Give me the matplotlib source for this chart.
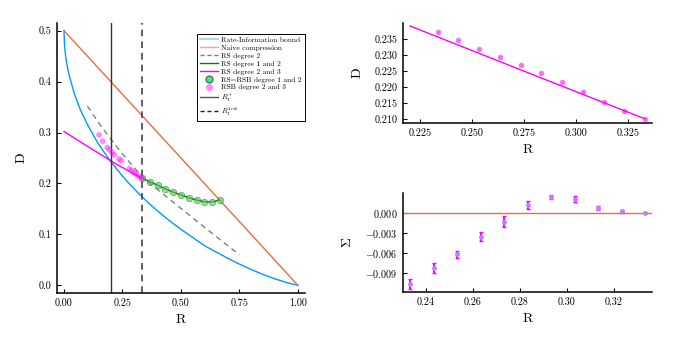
import matplotlib
matplotlib.use("Agg")
import matplotlib.pyplot as plt
from matplotlib.lines import Line2D

plt.rcParams.update({
    "font.family": "serif",
    "font.serif": ["cmr10", "DejaVu Serif"],
    "mathtext.fontset": "cm",
    "axes.formatter.use_mathtext": True,
    "axes.unicode_minus": True,
})

# ---------------- data ----------------
# Rate-Information bound
bound_R = [0.0, 0.002, 0.005, 0.01, 0.015, 0.02, 0.025, 0.03, 0.04, 0.045, 0.06, 0.07, 0.08,
           0.09, 0.1, 0.12, 0.13, 0.15, 0.175, 0.2, 0.225, 0.25, 0.275, 0.3, 0.325, 0.35,
           0.375, 0.4, 0.425, 0.45, 0.475, 0.5, 0.55, 0.6, 0.65, 0.7, 0.75, 0.8, 0.85,
           0.9, 0.95, 1.0]
bound_D = [0.5, 0.4737, 0.458, 0.4405, 0.428, 0.4163, 0.407, 0.3995, 0.383, 0.3755, 0.3565,
           0.3445, 0.335, 0.3253, 0.316, 0.2995, 0.291, 0.276, 0.259, 0.243, 0.2287, 0.2145,
           0.2015, 0.1893, 0.1777, 0.1667, 0.156, 0.1461, 0.1365, 0.1273, 0.1185, 0.110,
           0.094, 0.078, 0.0655, 0.0532, 0.0417, 0.0311, 0.0215, 0.013, 0.0057, 0.0]
# Naive compression
naive_R = [0.0, 1.0]
naive_D = [0.5, 0.0]
# RS degree 2
rs2_R = [0.1, 0.15, 0.2, 0.25, 0.3, 0.35, 0.4, 0.5, 0.6, 0.7, 0.75]
rs2_D = [0.352, 0.318, 0.287, 0.258, 0.231, 0.206, 0.188, 0.151, 0.114, 0.078, 0.060]
# RS degree 1 and 2 (line + RS=RSB points)
rs12_R = [0.3333, 0.3667, 0.4, 0.4333, 0.4667, 0.5, 0.5333, 0.5667, 0.6, 0.6333, 0.6667]
rs12_D = [0.2101, 0.2037, 0.1965, 0.1895, 0.183, 0.1775, 0.172, 0.1675, 0.164, 0.1638, 0.1677]
# RS degree 2 and 3
rs23_R = [0.0, 0.1, 0.22, 0.2767, 0.3333]
rs23_D = [0.302, 0.273, 0.2390, 0.2245, 0.2101]
# RSB degree 2 and 3 (left panel)
rsb_R = [0.15, 0.165, 0.185, 0.195, 0.205, 0.215, 0.235, 0.245, 0.28, 0.29, 0.30, 0.31, 0.32, 0.3333]
rsb_D = [0.2955, 0.283, 0.2705, 0.266, 0.261, 0.256, 0.248, 0.2444, 0.229, 0.225, 0.221, 0.2175, 0.214, 0.2101]
# thresholds
R_star = 0.2
R_d = 0.3333
# RSB degree 2 and 3 zoom (top right)
zoom_R = [0.2333, 0.2433, 0.2533, 0.2633, 0.2733, 0.2833, 0.2933, 0.3033, 0.3133, 0.3233, 0.3333]
zoom_D = [0.2371, 0.2345, 0.2319, 0.2294, 0.2269, 0.2243, 0.2215, 0.2185, 0.2152, 0.2125, 0.2101]
zoom_Derr = [0.0002, 0.0002, 0.0002, 0.0002, 0.0002, 0.0002, 0.0002, 0.0002, 0.0002, 0.0002, 0.0001]
# complexity Sigma (bottom right)
sigma = [-0.01075, -0.00836, -0.00627, -0.00364, -0.00135, 0.00114, 0.00228, 0.00204, 0.00075, 0.0002, 0.0]
sigma_err = [0.0008, 0.00075, 0.00057, 0.00067, 0.0008, 0.00055, 0.0003, 0.0004, 0.0003, 0.0002, 0.0001]

# ---------------- style ----------------
BLUE = "#009AFA"
ORANGE = "#E26F46"
MAG = "#FF00FF"
GREEN = "#008000"
LGREEN = "#5cc45c"

fig = plt.figure(figsize=(6.75, 3.39), dpi=100)
axL = fig.add_axes([0.0844, 0.1357, 0.3674, 0.7965])
axT = fig.add_axes([0.597, 0.637, 0.369, 0.295])
axB = fig.add_axes([0.597, 0.1378, 0.369, 0.294])

def style(ax):
    for s in ("top", "right"):
        ax.spines[s].set_visible(False)
    for s in ("left", "bottom"):
        ax.spines[s].set_linewidth(1.1)
    ax.tick_params(direction="in", length=3, width=0.8, labelsize=7.3, pad=4)

for ax in (axL, axT, axB):
    style(ax)

# left panel
axL.plot(bound_R, bound_D, color=BLUE, lw=1.0)
axL.plot(naive_R, naive_D, color=ORANGE, lw=1.0)
axL.plot(rs2_R, rs2_D, color="gray", lw=1.0, ls=(0, (4, 3)))
axL.plot(rs12_R, rs12_D, color=GREEN, lw=1.0)
axL.plot(rs23_R, rs23_D, color=MAG, lw=1.0)
axL.scatter(rs12_R, rs12_D, s=22, color=LGREEN, alpha=0.6, edgecolors=GREEN, linewidths=0.5, zorder=3)
axL.scatter(rsb_R, rsb_D, s=18, color=MAG, alpha=0.45, edgecolors="none", zorder=3)
axL.axvline(R_star, color="#333333", lw=1.0)
axL.axvline(R_d, color="#444444", lw=1.2, ls=(0, (4, 3)))
axL.set_xlim(-0.03, 1.03)
axL.set_ylim(-0.015, 0.515)
axL.set_xticks([0, 0.25, 0.5, 0.75, 1.0])
axL.set_xticklabels(["0.00", "0.25", "0.50", "0.75", "1.00"])
axL.set_yticks([0, 0.1, 0.2, 0.3, 0.4, 0.5])
axL.set_yticklabels(["0.0", "0.1", "0.2", "0.3", "0.4", "0.5"])
axL.set_xlabel("R", fontsize=10)
axL.set_ylabel("D", fontsize=10, labelpad=8)

handles = [
    Line2D([], [], color="#a8d8ff", lw=1.5),
    Line2D([], [], color="#f0a890", lw=1.0),
    Line2D([], [], color="gray", lw=1.0, ls=(0, (3, 2))),
    Line2D([], [], color=GREEN, lw=1.0),
    Line2D([], [], color=MAG, lw=1.0),
    Line2D([], [], ls="none", marker="o", ms=5, mfc="#40c0b0", mec=GREEN, alpha=0.8),
    Line2D([], [], ls="none", marker="o", ms=5, mfc=MAG, mec="none", alpha=0.45),
    Line2D([], [], color="#555555", lw=1.0),
    Line2D([], [], color="#222222", lw=1.0, ls=(0, (3, 2))),
]
labels = ["Rate-Information bound", "Naive compression", "RS degree 2", "RS degree 1 and 2",
          "RS degree 2 and 3", "RS=RSB degree 1 and 2", "RSB degree 2 and 3",
          r"$R^*_{I}$", r"$R_{I}^{1rsb}$"]
leg = axL.legend(handles, labels, loc="upper right", bbox_to_anchor=(1.0, 0.96),
                 fontsize=5.4, frameon=True, fancybox=False, framealpha=1,
                 edgecolor="black", handlelength=2.4, handletextpad=0.4,
                 labelspacing=0.22, borderpad=0.4, borderaxespad=0.0)
leg.get_frame().set_linewidth(0.7)

# top right
axT.plot(rs23_R[2:], rs23_D[2:], color=MAG, lw=1.0)
axT.errorbar(zoom_R, zoom_D, yerr=zoom_Derr, fmt="o", ms=4, mfc=MAG, mec="none", alpha=0.55,
             ecolor="#b040ff", elinewidth=0.8, zorder=3)
axT.set_xlim(0.2166, 0.3367)
axT.set_ylim(0.2088, 0.2399)
axT.set_xticks([0.225, 0.25, 0.275, 0.3, 0.325])
axT.set_xticklabels(["0.225", "0.250", "0.275", "0.300", "0.325"])
axT.set_yticks([0.21, 0.215, 0.22, 0.225, 0.23, 0.235])
axT.set_yticklabels(["0.210", "0.215", "0.220", "0.225", "0.230", "0.235"])
axT.set_xlabel("R", fontsize=10)
axT.set_ylabel("D", fontsize=10, labelpad=8)

# bottom right
axB.axhline(0.0, color=ORANGE, lw=1.0)
axB.errorbar(zoom_R, sigma, yerr=sigma_err, fmt="o", ms=3.5, mfc="#c080ff", mec="none",
             alpha=1.0, ecolor=MAG, elinewidth=1.5, capsize=1.5, capthick=1.0, zorder=3)
axB.set_xlim(0.2303, 0.3363)
axB.set_ylim(-0.01197, 0.0030)
axB.set_xticks([0.24, 0.26, 0.28, 0.30, 0.32])
axB.set_xticklabels(["0.24", "0.26", "0.28", "0.30", "0.32"])
axB.set_yticks([0.0, -0.003, -0.006, -0.009])
axB.set_yticklabels([r"$0.000$", r"$-0.003$", r"$-0.006$", r"$-0.009$"])
axB.set_xlabel("R", fontsize=10)
axB.set_ylabel(r"$\Sigma$", fontsize=10, labelpad=8)

fig.savefig("out.png", dpi=100)
